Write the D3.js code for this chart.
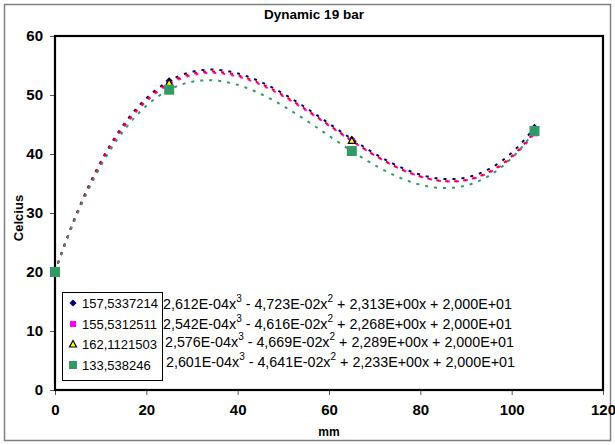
<!DOCTYPE html>
<html>
<head>
<meta charset="utf-8">
<script src="https://cdn.jsdelivr.net/npm/d3@7"></script>
<style>
  html, body { margin: 0; padding: 0; background: #fff; }
  svg { display: block; font-family: "Liberation Sans", Arial, sans-serif; }
</style>
</head>
<body>
<svg id="chart" width="615" height="445"></svg>
<script>
// Measurement positions (mm)
const positions = [0, 25, 65, 105];

// Series names as shown in the legend
const seriesNames = ["157,5337214", "155,5312511", "162,1121503", "133,538246"];

// Temperatures (Celcius) at each position, per series
const series1 = [20, 52.4, 42.5, 44.5];
const series2 = [20, 51.8, 42.2, 43.5];
const series3 = [20, 52.1, 42.3, 43.8];
const series4 = [20, 50.9, 40.5, 43.9];

// Cubic trendline coefficients [a3, a2, a1, a0]
const trend1 = [2.612e-4, -4.723e-2, 2.313, 20];
const trend2 = [2.542e-4, -4.616e-2, 2.268, 20];
const trend3 = [2.576e-4, -4.669e-2, 2.289, 20];
const trend4 = [2.601e-4, -4.641e-2, 2.233, 20];

// Axis ticks
const xTicks = [0, 20, 40, 60, 80, 100, 120];
const yTicks = [0, 10, 20, 30, 40, 50, 60];

const svg = d3.select("#chart");

// Outer chart frame
svg.append("rect")
  .attr("x", 4.5).attr("y", 4.5)
  .attr("width", 606).attr("height", 436)
  .attr("fill", "#fff")
  .attr("stroke", "#808080").attr("stroke-width", 1.5);

const plot = { left: 55, right: 603, top: 36, bottom: 390 };

const x = d3.scaleLinear().domain([0, 120]).range([plot.left, plot.right]);
const y = d3.scaleLinear().domain([0, 60]).range([plot.bottom, plot.top]);

// Title
svg.append("text")
  .attr("x", 314).attr("y", 19)
  .attr("text-anchor", "middle")
  .attr("font-size", 13.5).attr("font-weight", "bold")
  .text("Dynamic 19 bar");

// Axes
const xAxis = svg.append("g")
  .attr("transform", `translate(0,${plot.bottom})`)
  .call(d3.axisBottom(x).tickValues(xTicks).tickSize(5).tickPadding(9).tickFormat(d3.format("d")));
const yAxis = svg.append("g")
  .attr("transform", `translate(${plot.left},0)`)
  .call(d3.axisLeft(y).tickValues(yTicks).tickSize(5).tickPadding(7).tickFormat(d3.format("d")));

[xAxis, yAxis].forEach(g => {
  g.select(".domain").remove();
  g.selectAll(".tick line").attr("stroke", "#555").attr("stroke-width", 1);
  g.selectAll(".tick text")
    .attr("font-size", 15).attr("font-weight", "bold")
    .attr("fill", "#000")
    .attr("font-family", "'Liberation Sans', Arial, sans-serif");
});

// Plot area border
svg.append("rect")
  .attr("x", plot.left).attr("y", plot.top)
  .attr("width", plot.right - plot.left).attr("height", plot.bottom - plot.top)
  .attr("fill", "none")
  .attr("stroke", "#000").attr("stroke-width", 2.2);

// Axis titles
svg.append("text")
  .attr("x", 329).attr("y", 436)
  .attr("text-anchor", "middle")
  .attr("font-size", 12).attr("font-weight", "bold")
  .text("mm");
svg.append("text")
  .attr("transform", "translate(23,218) rotate(-90)")
  .attr("text-anchor", "middle")
  .attr("font-size", 13).attr("font-weight", "bold")
  .text("Celcius");

const seriesData = [series1, series2, series3, series4];
const trends = [trend1, trend2, trend3, trend4];
const lineColors = ["#000080", "#FF00FF", "#FF0000", "#339966"];

// Dotted cubic trendlines
const poly = (c, v) => c[0] * v * v * v + c[1] * v * v + c[2] * v + c[3];
const xs = d3.range(0, 105.01, 0.5);
const line = d3.line().x(d => x(d[0])).y(d => y(d[1]));
trends.forEach((c, i) => {
  svg.append("path")
    .attr("d", line(xs.map(v => [v, poly(c, v)])))
    .attr("fill", "none")
    .attr("stroke", lineColors[i])
    .attr("stroke-width", 2)
    .attr("stroke-dasharray", "3,6");
});

// Marker shapes per series
function drawMarker(g, kind, cx, cy, big) {
  if (kind === 0) {
    const s = 3.6;
    g.append("path")
      .attr("d", `M${cx},${cy - s}L${cx + s},${cy}L${cx},${cy + s}L${cx - s},${cy}Z`)
      .attr("fill", "#000080");
  } else if (kind === 1) {
    g.append("rect").attr("x", cx - 3).attr("y", cy - 3).attr("width", 6).attr("height", 6)
      .attr("fill", "#FF00FF");
  } else if (kind === 2) {
    g.append("path")
      .attr("d", `M${cx},${cy - 3.5}L${cx + 3.5},${cy + 3}L${cx - 3.5},${cy + 3}Z`)
      .attr("fill", "#FFFF00").attr("stroke", "#000").attr("stroke-width", 1.2);
  } else {
    const s = big ? 10 : 8;
    g.append("rect").attr("x", cx - s / 2).attr("y", cy - s / 2).attr("width", s).attr("height", s)
      .attr("fill", "#339966");
  }
}

const markers = svg.append("g");
seriesData.forEach((vals, i) => {
  vals.forEach((v, j) => drawMarker(markers, i, x(positions[j]), y(v), true));
});

// Legend
const legend = svg.append("g");
legend.append("rect")
  .attr("x", 62.5).attr("y", 292.5).attr("width", 100).attr("height", 88)
  .attr("fill", "#fff").attr("stroke", "#000").attr("stroke-width", 1);
const legendRows = [303, 324, 344, 365];
seriesNames.forEach((name, i) => {
  drawMarker(legend, i, 73, legendRows[i], false);
  legend.append("text")
    .attr("x", 82).attr("y", legendRows[i] + 4.5)
    .attr("font-size", 13)
    .text(name);
});

// Trendline equations in Excel-style scientific notation
function sci(v) {
  const a = Math.abs(v);
  let e = Math.floor(Math.log10(a));
  let m = a / Math.pow(10, e);
  if (+m.toFixed(3) >= 10) { m /= 10; e += 1; }
  const es = (e < 0 ? "-" : "+") + String(Math.abs(e)).padStart(2, "0");
  return m.toFixed(3).replace(".", ",") + "E" + es;
}
const eqX = [163, 163, 165, 166];
const eqY = [304, 324, 342, 362];
trends.forEach((c, i) => {
  const t = svg.append("text")
    .attr("x", eqX[i]).attr("y", eqY[i] + 5)
    .attr("font-size", 14.3);
  t.append("tspan").text(sci(c[0]) + "x");
  t.append("tspan").attr("dy", -7).attr("font-size", 10).text("3");
  t.append("tspan").attr("dy", 7).text(" " + (c[1] < 0 ? "-" : "+") + " " + sci(c[1]) + "x");
  t.append("tspan").attr("dy", -7).attr("font-size", 10).text("2");
  t.append("tspan").attr("dy", 7)
    .text(" " + (c[2] < 0 ? "-" : "+") + " " + sci(c[2]) + "x " + (c[3] < 0 ? "-" : "+") + " " + sci(c[3]));
});
</script>
</body>
</html>
